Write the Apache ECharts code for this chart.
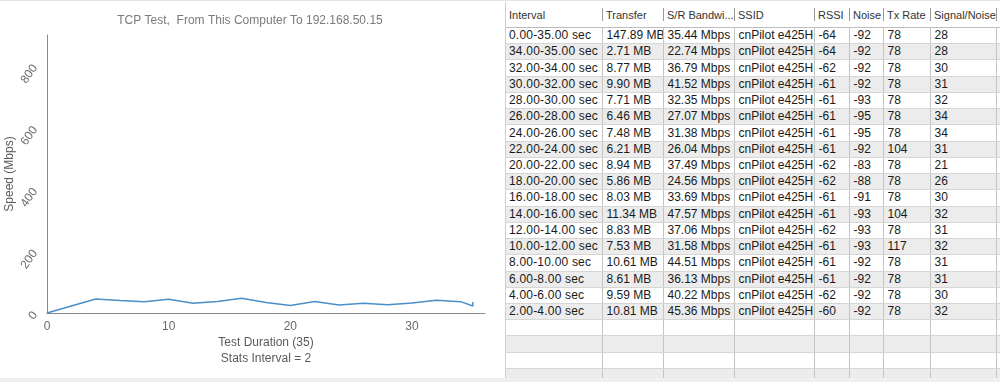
<!DOCTYPE html>
<html>
<head>
<meta charset="utf-8">
<script src="https://cdn.jsdelivr.net/npm/echarts@6/dist/echarts.min.js"></script>
<style>
  html, body { margin:0; padding:0; width:1000px; height:382px; overflow:hidden; background:#fff;
    font-family:"Liberation Sans", Arial, Helvetica, sans-serif; }
  #topline { position:absolute; left:0; top:0; width:1000px; height:1px; background:#e2e2e2; }
  #bottomband { position:absolute; left:0; top:378px; width:1000px; height:4px; background:#efefef; }
  #chart { position:absolute; left:0; top:0; width:500px; height:382px; }
  #tablewrap { position:absolute; left:505px; top:2px; width:495px; height:376px; overflow:hidden; }
  table { border-collapse:collapse; table-layout:fixed; width:495px; }
  th { font-weight:normal; font-size:11px; color:#333; text-align:left; height:25px; padding:0 0 0 4px;
       border-bottom:1px solid #bdbdbd; background:#fff; position:relative; white-space:nowrap; overflow:hidden; }
  th + th::before { content:""; position:absolute; left:0; top:6px; height:13px; border-left:1px solid #9a9a9a; }
  td { font-size:12px; color:#1a1a1a; height:15.24px; padding:0 0 0 4px; white-space:nowrap; overflow:hidden;
       border-left:1px solid #c4c4c4; border-bottom:1px solid #d6d6d6; line-height:15px; }
  td.iv { letter-spacing:0.2px; }
  tr.g td { background:#ececec; }
  #leftedge { position:absolute; left:505px; top:2px; width:0; height:376px; border-left:1px solid #cfcfcf; }
</style>
</head>
<body>
<div id="topline"></div>
<div id="chart"></div>
<div id="tablewrap"><table id="tbl"></table></div>
<div id="leftedge"></div>
<div id="bottomband"></div>
<script>
// ---- data ----
const headers = ["Interval", "Transfer", "S/R Bandwi...", "SSID", "RSSI", "Noise", "Tx Rate", "Signal/Noise", ""];
const intervals = ["0.00-35.00 sec","34.00-35.00 sec","32.00-34.00 sec","30.00-32.00 sec","28.00-30.00 sec",
  "26.00-28.00 sec","24.00-26.00 sec","22.00-24.00 sec","20.00-22.00 sec","18.00-20.00 sec","16.00-18.00 sec",
  "14.00-16.00 sec","12.00-14.00 sec","10.00-12.00 sec","8.00-10.00 sec","6.00-8.00 sec","4.00-6.00 sec","2.00-4.00 sec"];
const transfer = ["147.89 MB","2.71 MB","8.77 MB","9.90 MB","7.71 MB","6.46 MB","7.48 MB","6.21 MB","8.94 MB",
  "5.86 MB","8.03 MB","11.34 MB","8.83 MB","7.53 MB","10.61 MB","8.61 MB","9.59 MB","10.81 MB"];
const bandwidth = [35.44,22.74,36.79,41.52,32.35,27.07,31.38,26.04,37.49,24.56,33.69,47.57,37.06,31.58,44.51,36.13,40.22,45.36];
const ssid = "cnPilot e425H";
const rssi = [-64,-64,-62,-61,-61,-61,-61,-61,-62,-62,-61,-61,-62,-61,-61,-61,-62,-60];
const noise = [-92,-92,-92,-92,-93,-95,-95,-92,-83,-88,-91,-93,-93,-93,-92,-92,-92,-92];
const txRate = [78,78,78,78,78,78,78,104,78,78,78,104,78,117,78,78,78,78];
const snr = [28,28,30,31,32,34,34,31,21,26,30,32,31,32,31,31,30,32];
const emptyRows = 4;
const colWidths = [97,61,71,80,35,34,47,66,4];

// ---- table ----
const tbl = document.getElementById('tbl');
let html = '<colgroup>' + colWidths.map(w => '<col style="width:' + w + 'px">').join('') + '</colgroup>';
html += '<tr>' + headers.map(h => '<th>' + h + '</th>').join('') + '</tr>';
for (let i = 0; i < intervals.length + emptyRows; i++) {
  const cls = (i % 2 === 1) ? ' class="g"' : '';
  let cells;
  if (i < intervals.length) {
    cells = [intervals[i], transfer[i], bandwidth[i].toFixed(2) + ' Mbps', ssid, rssi[i], noise[i], txRate[i], snr[i], ''];
  } else {
    cells = ['', '', '', '', '', '', '', '', ''];
  }
  html += '<tr' + cls + '>' + cells.map((c, j) => '<td' + (j === 0 ? ' class="iv" style="border-left:none"' : '') + '>' + c + '</td>').join('') + '</tr>';
}
tbl.innerHTML = html;

// ---- line series (interval end time vs. bandwidth), in time order ----
const points = [[0, 0]];
for (let i = intervals.length - 1; i >= 1; i--) {
  const end = parseFloat(intervals[i].split('-')[1]);
  points.push([end, bandwidth[i]]);
}
points.push([parseFloat(intervals[0].split('-')[1]), bandwidth[0]]);

const chart = echarts.init(document.getElementById('chart'), null, { renderer: 'canvas' });
chart.setOption({
  animation: false,
  title: {
    text: 'TCP Test,  From This Computer To 192.168.50.15',
    left: 'center', top: 10,
    textStyle: { fontSize: 12, fontWeight: 'normal', color: '#7a7a7a', fontFamily: 'Liberation Sans' }
  },
  grid: { left: 47, right: 15, top: 35, bottom: 69, containLabel: false, outerBoundsMode: 'none' },
  xAxis: {
    type: 'value', min: 0, max: 36, interval: 10,
    name: 'Test Duration (35)\nStats Interval = 2',
    nameLocation: 'middle', nameGap: 22, nameMoveOverlap: false,
    nameTextStyle: { fontSize: 12, color: '#5a5a5a', lineHeight: 16, fontFamily: 'Liberation Sans' },
    axisLine: { lineStyle: { color: '#8a8a8a', width: 1 } },
    axisTick: { show: false },
    splitLine: { show: false },
    axisLabel: { showMaxLabel: false, fontSize: 12, color: '#6a6a6a', margin: 8, fontFamily: 'Liberation Sans' }
  },
  yAxis: {
    type: 'value', min: 0, max: 900, interval: 200,
    name: 'Speed (Mbps)', nameLocation: 'middle', nameGap: 31, nameMoveOverlap: false,
    nameTextStyle: { fontSize: 12, color: '#5a5a5a', fontFamily: 'Liberation Sans' },
    axisLine: { show: true, lineStyle: { color: '#8a8a8a', width: 1 } },
    axisTick: { show: false },
    splitLine: { show: false },
    axisLabel: { showMaxLabel: false, rotate: 55, fontSize: 12, color: '#6a6a6a', margin: 12, fontFamily: 'Liberation Sans' }
  },
  series: [{
    type: 'line', data: points, showSymbol: false, symbol: 'none',
    lineStyle: { color: '#4a8fc9', width: 1.5 }
  }]
});
</script>
</body>
</html>
